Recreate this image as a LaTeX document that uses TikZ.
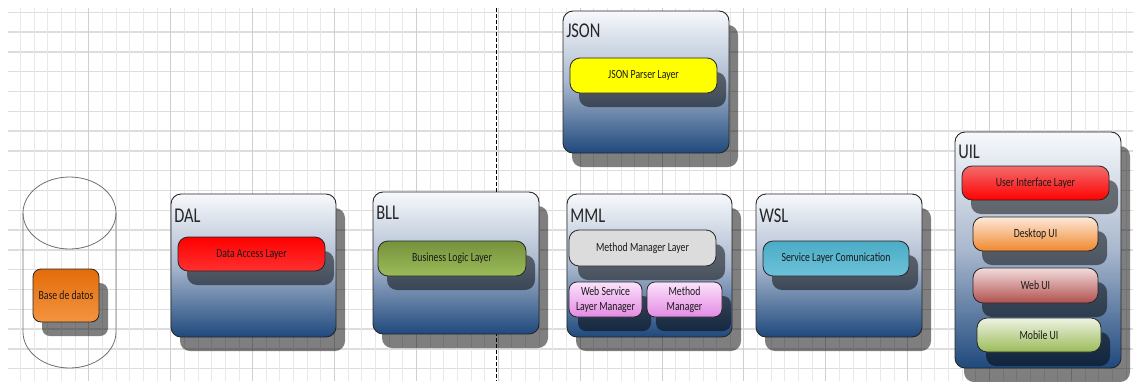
\documentclass[tikz,border=0pt]{standalone}
\usepackage{fontspec}
\newfontfamily\cf[FakeStretch=0.78]{Carlito}
\usetikzlibrary{shadows}
\definecolor{layertop}{HTML}{F7F9FC}
\definecolor{layermid}{HTML}{A9B8CE}
\definecolor{layerbot}{HTML}{1F497D}
\definecolor{gridh}{HTML}{DDDDDD}
\definecolor{gridv}{HTML}{E8E8E8}
\definecolor{gridm}{HTML}{CFCFCF}
\definecolor{redtop}{HTML}{FF0000}
\definecolor{redbot}{HTML}{FF3030}
\definecolor{grntop}{HTML}{76923C}
\definecolor{grnbot}{HTML}{9BBB59}
\definecolor{greyfill}{HTML}{DCDCDC}
\definecolor{pinktop}{HTML}{FBE3FB}
\definecolor{pinkbot}{HTML}{E38AE3}
\definecolor{cyantop}{HTML}{4BACC6}
\definecolor{cyanbot}{HTML}{6CC2D9}
\definecolor{uitop}{HTML}{F36C6C}
\definecolor{uibot}{HTML}{FF0000}
\definecolor{desktop}{HTML}{FDE9D9}
\definecolor{deskbot}{HTML}{F0882E}
\definecolor{webtop}{HTML}{F2DCDB}
\definecolor{webbot}{HTML}{B0504E}
\definecolor{mobtop}{HTML}{EEF3E2}
\definecolor{mobbot}{HTML}{9BBB59}
\definecolor{dbtop}{HTML}{E46C0A}
\definecolor{dbbot}{HTML}{F39440}
\definecolor{cylline}{HTML}{707070}
\tikzset{
  shad/.style={drop shadow={shadow xshift=9pt,shadow yshift=-14pt,fill=black,opacity=0.5}},
  layer/.style 2 args={draw=black!85,line width=0.9pt,rounded corners=10pt,inner sep=0pt,
    minimum width=#1pt,minimum height=#2pt,top color=layertop,bottom color=layerbot,middle color=layermid,shad},
  layertitle/.style={font=\cf\fontsize{21}{21}\selectfont,text=black!85,inner sep=0pt,anchor=base west},
  part/.style n args={4}{draw=black!85,line width=0.8pt,rounded corners=10pt,inner sep=0pt,
    minimum width=#1pt,minimum height=#2pt,top color=#3,bottom color=#4,shad,
    font=\cf\fontsize{12.5}{15.5}\selectfont,text=black!90,align=center},
  hgridline/.style={gridh,line width=1.4pt},
  vgridline/.style={gridv,line width=1pt},
  mgridline/.style={gridm,line width=1pt},
  dashline/.style={black,line width=1pt,dash pattern=on 4pt off 2pt},
  cyl/.style={cylline,line width=0.8pt},
}
\begin{document}
\begin{tikzpicture}[x=1pt,y=-1pt]
\useasboundingbox (0,0) rectangle (1133,381);
% grid
\foreach \k in {0,...,18}
  \draw[hgridline] (8,{12.3+19.8*\k}) -- (1133,{12.3+19.8*\k});
\foreach \k in {0,...,81}
  \draw[vgridline] ({20.7+13.646*\k},8) -- ({20.7+13.646*\k},381);
\foreach \k in {5,11,...,77}
  \draw[mgridline] ({20.7+13.646*\k},8) -- ({20.7+13.646*\k},381);
% dashed divider
\coordinate (dtop) at (496,8);
\coordinate (dbot) at (496,381);
\draw[dashline] (dtop) -- (dbot);
% database cylinder
\draw[cyl] (69.5,213) ellipse [x radius=46.5pt,y radius=36pt];
\draw[cyl] (23,213) -- (23,332) arc[start angle=180,end angle=360,x radius=46.5pt,y radius=36pt] -- (116,213);
\node[part={66}{53}{dbtop}{dbbot},rounded corners=8pt] (db) at (66,295.5) {Base de datos};
% JSON
\node[layer={166}{142}] (json) at (646,82) {};
\node[layertitle] (jsonT) at ([xshift=3.5pt,yshift=-27pt]json.north west) {JSON};
\node[part={147}{35}{yellow}{yellow}] (jsonp) at (643.5,75.5) {JSON Parser Layer};
% DAL
\node[layer={165}{143}] (dal) at (253.5,265.5) {};
\node[layertitle] (dalT) at ([xshift=3.5pt,yshift=-29pt]dal.north west) {DAL};
\node[part={147}{34}{redtop}{redbot}] (dalp) at (251.5,254) {Data Access Layer};
% BLL
\node[layer={166}{142}] (bll) at (456,263) {};
\node[layertitle] (bllT) at ([xshift=3.5pt,yshift=-28pt]bll.north west) {BLL};
\node[part={148}{35}{grntop}{grnbot}] (bllp) at (452,258.5) {Business Logic Layer};
% MML
\node[layer={165}{143}] (mml) at (649.5,265.5) {};
\node[layertitle] (mmlT) at ([xshift=3.5pt,yshift=-29pt]mml.north west) {MML};
\node[part={147}{36}{greyfill}{greyfill}] (mmlp) at (642.5,248) {Method Manager Layer};
\node[part={73}{35}{pinktop}{pinkbot},rounded corners=8pt] (wslm) at (605.5,299.5) {Web Service\\Layer Manager};
\node[part={75}{35}{pinktop}{pinkbot},rounded corners=8pt] (mm) at (684.5,299.5) {Method\\Manager};
% WSL
\node[layer={166}{143}] (wsl) at (839,265.5) {};
\node[layertitle] (wslT) at ([xshift=3.5pt,yshift=-29pt]wsl.north west) {WSL};
\node[part={146}{35}{cyantop}{cyanbot}] (wslp) at (836,258.5) {Service Layer Comunication};
% UIL
\node[layer={166}{236}] (uil) at (1038,250) {};
\node[layertitle] (uilT) at ([xshift=3.5pt,yshift=-27pt]uil.north west) {UIL};
\node[part={147}{34}{uitop}{uibot}] (uip) at (1035.5,183) {User Interface Layer};
\node[part={125}{34}{desktop}{deskbot}] (desk) at (1035.5,234) {Desktop UI};
\node[part={125}{35}{webtop}{webbot}] (web) at (1035.5,285.5) {Web UI};
\node[part={124}{34}{mobtop}{mobbot}] (mob) at (1039,335) {Mobile UI};
\end{tikzpicture}
\end{document}
